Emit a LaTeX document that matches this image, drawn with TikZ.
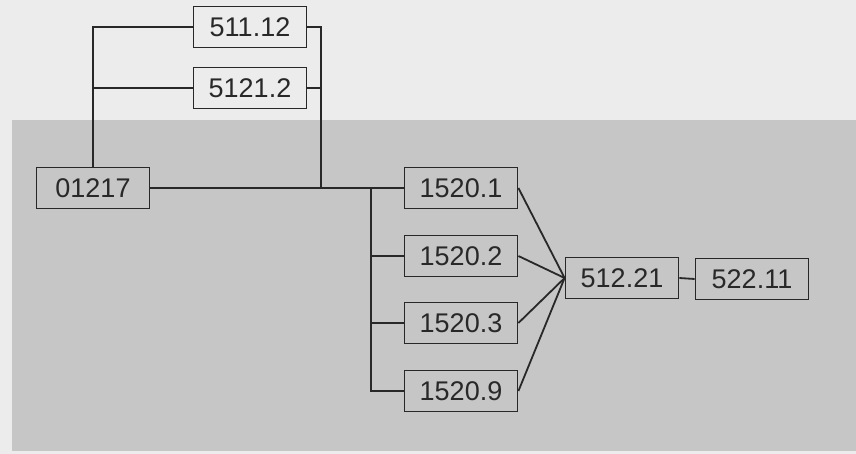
\documentclass[tikz,border=0pt]{standalone}
\usepackage{fontspec}
\setmainfont{Liberation Sans}
\definecolor{topbg}{RGB}{236,236,236}
\definecolor{lowbg}{RGB}{198,198,198}
\definecolor{ink}{RGB}{40,40,40}
\begin{document}
\begin{tikzpicture}[x=1pt,y=-1pt,
  box/.style={draw=ink,line width=1.8pt,minimum width=113pt,minimum height=41pt,inner sep=0pt,font=\fontsize{27}{27}\selectfont,text=ink},
  wire/.style={draw=ink,line width=1.8pt}]
\fill[topbg] (0,0) rectangle (856,454);
\useasboundingbox (0,0) rectangle (856,454);
\fill[lowbg] (12,120) rectangle (856,451);
\node[box] (a) at (250,27) {511.12};
\node[box] (b) at (250,88) {5121.2};
\node[box] (c) at (93,188) {01217};
\node[box] (d1) at (461,188) {1520.1};
\node[box] (d2) at (461,256) {1520.2};
\node[box] (d3) at (461,323) {1520.3};
\node[box] (d9) at (461,391) {1520.9};
\node[box] (e) at (622,278) {512.21};
\node[box] (f) at (752,279) {522.11};
\coordinate (J) at (321,188);
\coordinate (K) at (371,188);
\path[wire] (c.north) |- (a.west);
\path[wire] (c.north |- b.west) -- (b.west);
\path[wire] (a.east) -| (J);
\path[wire] (b.east) -- (b.east -| J);
\path[wire] (c.east) -- (d1.west);
\path[wire] (K) |- (d9.west);
\path[wire] (K |- d2.west) -- (d2.west);
\path[wire] (K |- d3.west) -- (d3.west);
\foreach \n in {d1,d2,d3,d9} \path[wire] (\n.east) -- (e.west);
\path[wire] (e.east) -- (f.west);
\end{tikzpicture}
\end{document}
